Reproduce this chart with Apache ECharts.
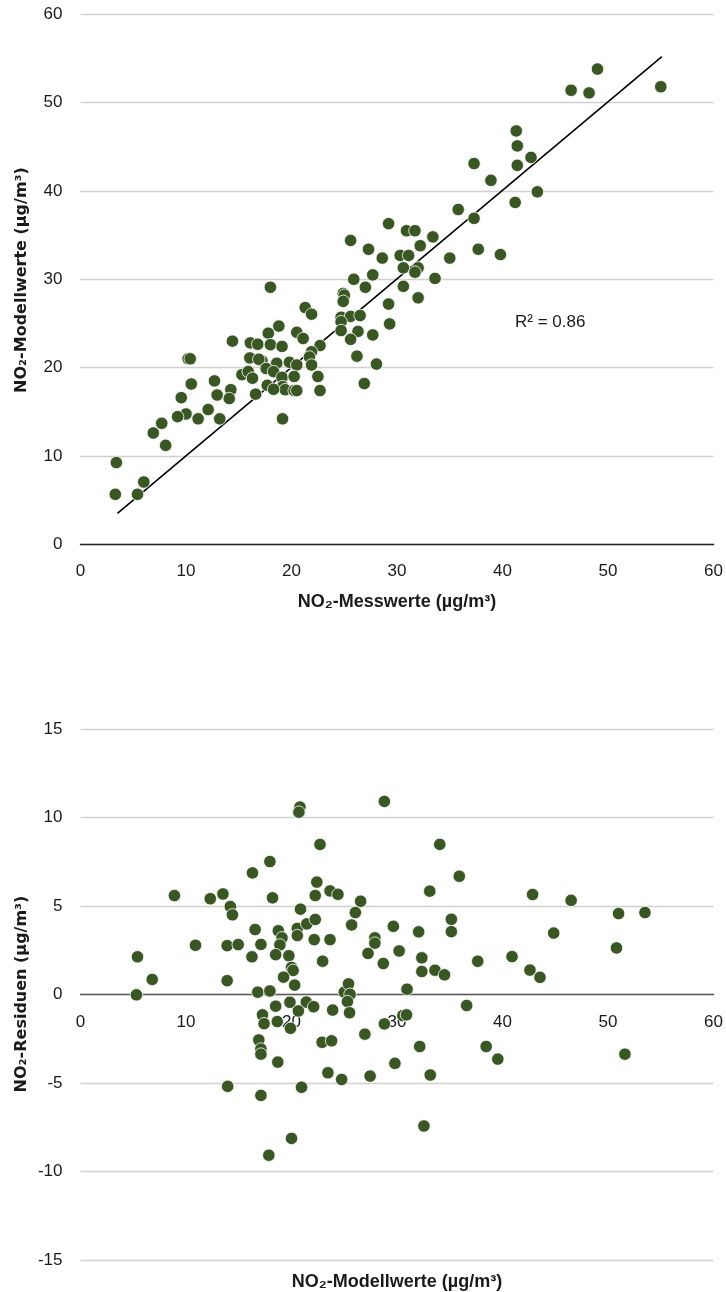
<!DOCTYPE html>
<html>
<head>
<meta charset="utf-8">
<script src="https://cdn.jsdelivr.net/npm/echarts@6/dist/echarts.min.js"></script>
<style>html,body{margin:0;padding:0;background:#fff}#c{width:726px;height:1292px}</style>
</head>
<body>
<div id="c"></div>
<script>
// Top chart: measured (x) vs modelled (y)
const measured = [49.0,46.5,48.2,55.0,41.3,41.4,37.3,41.4,42.7,38.9,43.3,41.2,35.8,37.3,29.2,30.9,31.7,33.4,25.6,32.2,27.3,37.7,39.8,28.6,30.3,31.1,35.0,30.6,32.0,31.7,27.7,33.6,25.9,27.0,30.6,18.0,24.9,25.0,24.9,32.0,29.2,21.3,21.9,24.7,25.6,26.5,24.7,29.3,18.8,24.7,26.3,27.7,20.5,21.1,25.6,17.8,14.4,16.1,16.8,18.0,19.1,22.7,21.9,21.7,16.05,10.2,10.4,17.2,16.9,18.6,19.8,21.9,20.5,26.2,17.6,18.3,15.3,15.9,16.3,19.1,20.25,22.5,28.05,10.5,12.7,17.7,19.15,19.4,20.25,20.5,18.3,22.7,26.9,16.6,14.25,14.1,12.95,9.55,12.1,10.0,9.2,11.15,13.2,19.15,7.7,6.9,8.07,3.4,6.0,3.3,5.4];
const modelled = [53.8,51.4,51.1,51.8,46.8,45.1,43.1,42.9,43.8,41.2,39.9,38.7,37.9,36.9,36.3,35.5,35.5,34.8,34.4,33.8,33.4,33.4,32.8,32.4,32.7,32.7,32.4,31.3,31.3,30.8,30.5,30.1,30.0,29.1,29.2,29.1,28.4,28.2,27.5,27.9,27.2,26.8,26.05,25.7,25.8,25.9,25.2,24.95,24.7,24.2,24.1,23.7,24.0,23.3,23.2,23.9,23.0,22.8,22.65,22.6,22.4,22.5,21.8,21.2,21.1,21.0,21.0,20.75,20.95,20.5,20.6,20.3,20.3,21.3,19.9,19.55,19.2,19.55,18.8,18.9,19.0,19.0,20.4,18.15,18.5,18.0,17.85,17.5,17.4,17.4,17.55,17.4,18.2,17.0,17.5,16.5,16.9,16.6,15.25,14.75,14.45,14.2,14.2,14.2,13.7,12.6,11.2,9.25,7.05,5.66,5.66];
// Trend line end points
const trendX = [3.5, 55.1];
const trendY = [3.5, 55.2];
const r2Label = 'R² = 0.86';

// Bottom chart: modelled (x) vs residuals (y)
const residX = [5.4,5.3,6.8,8.9,10.9,12.3,13.5,14.2,14.4,13.9,14.95,13.9,16.3,17.95,18.2,16.55,17.1,16.25,16.8,17.95,18.75,19.1,18.9,18.5,19.75,20.0,20.15,19.25,20.3,20.55,20.55,20.8,20.7,20.85,21.45,22.25,22.15,22.25,22.4,22.7,22.95,23.65,23.65,24.4,25.0,25.4,25.55,25.7,26.05,26.55,27.25,27.9,27.9,28.7,28.8,29.65,30.2,30.95,32.05,32.35,32.35,33.1,33.6,34.05,34.5,35.15,35.15,35.9,37.65,40.9,42.6,42.85,43.55,44.85,46.5,50.8,51.0,53.5,19.85,18.5,21.4,22.1,20.65,23.9,17.25,17.4,18.65,19.9,25.3,25.5,30.55,30.9,28.8,26.95,16.9,17.1,17.1,18.7,22.9,23.8,32.15,38.45,39.55,29.8,51.6,23.45,24.75,27.45,33.15,13.95,20.95,17.1,32.55,20.0,17.85,36.6];
const residY = [2.13,-0.02,0.85,5.59,2.78,5.41,5.68,4.97,4.5,2.76,2.82,0.78,6.87,7.51,5.46,3.67,2.83,2.13,0.13,0.2,3.6,3.2,2.8,2.25,2.19,1.53,1.36,0.98,0.53,3.73,3.33,10.59,10.3,4.82,3.99,4.24,3.1,5.59,6.35,8.48,1.88,3.1,5.85,5.66,0.13,0.6,0.01,3.93,4.63,5.27,2.32,3.2,2.9,1.75,10.91,3.85,2.46,0.3,3.54,2.07,1.3,5.84,1.37,8.48,1.11,4.25,3.55,6.68,1.88,2.14,1.38,5.65,0.97,3.47,5.32,2.63,4.57,4.63,-0.44,-0.66,-0.43,-0.69,-0.93,-0.88,-1.15,-1.65,-1.53,-1.91,-0.4,-1.03,-1.19,-1.15,-1.66,-2.24,-2.57,-3.08,-3.37,-3.82,-2.7,-2.62,-2.94,-2.94,-3.65,-3.89,-3.37,-4.42,-4.8,-4.61,-4.55,-5.19,-5.24,-5.7,-7.43,-8.13,-9.08,-0.62];

const xTicks = {min: 0, max: 60, interval: 10};
const yTopTicks = {min: 0, max: 60, interval: 10};
const yBotTicks = {min: -15, max: 15, interval: 5};

const zip = (a, b) => a.map((v, i) => [v, b[i]]);
const GREEN = '#385723';
const labelFont = {fontFamily: 'Liberation Sans', fontSize: 17, color: '#1a1a1a'};
const gridLine = {show: true, lineStyle: {color: '#d0d0d0', width: 1.3}};

// bottom grid geometry
const botTop = 729, botHeight = 531;
// distance from grid bottom to the y=0 line of the residual chart
const zeroOffset = botHeight * (0 - yBotTicks.min) / (yBotTicks.max - yBotTicks.min);

const chart = echarts.init(document.getElementById('c'), null, {renderer: 'canvas'});
chart.setOption({
  animation: false,
  backgroundColor: '#fff',
  grid: [
    {left: 80.5, width: 633.5, top: 14.3, height: 530, containLabel: false},
    {left: 80.5, width: 633.5, top: botTop, height: botHeight, containLabel: false}
  ],
  xAxis: [
    {gridIndex: 0, type: 'value', min: xTicks.min, max: xTicks.max, interval: xTicks.interval,
     splitLine: {show: false}, axisTick: {show: false},
     axisLine: {show: true, lineStyle: {color: '#262626', width: 1.4}},
     axisLabel: Object.assign({margin: 19, showMinLabel: true, showMaxLabel: true}, labelFont)},
    {gridIndex: 1, type: 'value', min: xTicks.min, max: xTicks.max, interval: xTicks.interval,
     position: 'bottom', offset: -zeroOffset,
     splitLine: {show: false}, axisTick: {show: false},
     axisLine: {show: true, onZero: false, lineStyle: {color: '#5a5a5a', width: 1.4}},
     axisLabel: Object.assign({margin: 19, showMinLabel: true, showMaxLabel: true}, labelFont)}
  ],
  yAxis: [
    {gridIndex: 0, type: 'value', min: yTopTicks.min, max: yTopTicks.max, interval: yTopTicks.interval,
     splitLine: gridLine, axisTick: {show: false}, axisLine: {show: false},
     axisLabel: Object.assign({margin: 18}, labelFont)},
    {gridIndex: 1, type: 'value', min: yBotTicks.min, max: yBotTicks.max, interval: yBotTicks.interval,
     splitLine: gridLine, axisTick: {show: false}, axisLine: {show: false},
     axisLabel: Object.assign({margin: 18}, labelFont)}
  ],
  series: [
    {type: 'line', xAxisIndex: 0, yAxisIndex: 0, data: zip(trendX, trendY), symbol: 'none',
     lineStyle: {color: '#000', width: 1.6}, z: 3, silent: true},
    {type: 'scatter', xAxisIndex: 0, yAxisIndex: 0, data: zip(measured, modelled),
     symbol: 'circle', symbolSize: 12.5,
     itemStyle: {color: GREEN, borderColor: '#fff', borderWidth: 0.8, opacity: 1}, z: 4},
    {type: 'scatter', xAxisIndex: 1, yAxisIndex: 1, data: zip(residX, residY),
     symbol: 'circle', symbolSize: 12.5,
     itemStyle: {color: GREEN, borderColor: '#fff', borderWidth: 0.8, opacity: 1}, z: 4}
  ],
  graphic: [
    {type: 'text', x: 515, y: 322, z: 10,
     style: {text: r2Label, font: '17px "Liberation Sans"', fill: '#1a1a1a', align: 'left', verticalAlign: 'middle'}},
    {type: 'text', x: 397, y: 602, z: 10,
     style: {text: 'NO₂-Messwerte (µg/m³)', font: 'bold 18px "Liberation Sans"', fill: '#1a1a1a', align: 'center', verticalAlign: 'middle'}},
    {type: 'text', x: 22, y: 280, rotation: Math.PI / 2, z: 10,
     style: {text: 'NO₂-Modellwerte (µg/m³)', font: 'bold 16px "DejaVu Sans"', fill: '#1a1a1a', align: 'center', verticalAlign: 'middle'}},
    {type: 'text', x: 397, y: 1282, z: 10,
     style: {text: 'NO₂-Modellwerte (µg/m³)', font: 'bold 18px "Liberation Sans"', fill: '#1a1a1a', align: 'center', verticalAlign: 'middle'}},
    {type: 'text', x: 22, y: 994, rotation: Math.PI / 2, z: 10,
     style: {text: 'NO₂-Residuen (µg/m³)', font: 'bold 16px "DejaVu Sans"', fill: '#1a1a1a', align: 'center', verticalAlign: 'middle'}}
  ]
});
</script>
</body>
</html>
